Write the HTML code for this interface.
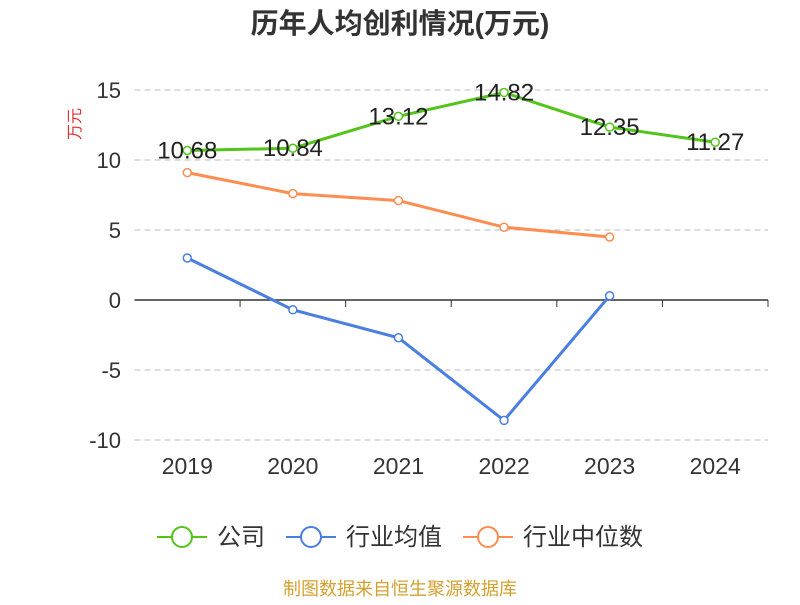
<!DOCTYPE html>
<html><head><meta charset="utf-8"><style>
body{margin:0;background:#fff;width:800px;height:600px;overflow:hidden;font-family:"Liberation Sans","Noto Sans CJK SC",sans-serif}
</style></head><body>
<svg id="c" width="800" height="600" xmlns="http://www.w3.org/2000/svg">
<text x="400" y="33" text-anchor="middle" font-size="28" font-weight="bold" fill="#333" font-family="Liberation Sans,Noto Sans CJK SC,sans-serif">历年人均创利情况(万元)</text>
<text x="0" y="0" transform="translate(80,124) rotate(-90)" text-anchor="middle" font-size="16" fill="#e03030" font-family="Liberation Sans,Noto Sans CJK SC,sans-serif">万元</text>
<g id="grid"></g><g id="series"></g>
<g font-size="24" fill="#333" font-family="Liberation Sans,Noto Sans CJK SC,sans-serif">
<g><line x1="157" y1="537" x2="207" y2="537" stroke="#52c41a" stroke-width="2"/><circle cx="182" cy="537" r="10" fill="#fff" stroke="#52c41a" stroke-width="2"/><text x="217" y="545">公司</text></g>
<g><line x1="286" y1="537" x2="336" y2="537" stroke="#4a7ee0" stroke-width="2"/><circle cx="311" cy="537" r="10" fill="#fff" stroke="#4a7ee0" stroke-width="2"/><text x="346" y="545">行业均值</text></g>
<g><line x1="463" y1="537" x2="513" y2="537" stroke="#ff8c50" stroke-width="2"/><circle cx="488" cy="537" r="10" fill="#fff" stroke="#ff8c50" stroke-width="2"/><text x="523" y="545">行业中位数</text></g>
</g>
<text x="400" y="595" text-anchor="middle" font-size="18" fill="#d4a030" font-family="Liberation Sans,Noto Sans CJK SC,sans-serif">制图数据来自恒生聚源数据库</text>
</svg>
<script>
const categories=["2019","2020","2021","2022","2023","2024"];
const company=[10.68,10.84,13.12,14.82,12.35,11.27];
const industryAvg=[3.0,-0.7,-2.7,-8.6,0.3,null];
const industryMedian=[9.1,7.6,7.1,5.2,4.5,null];
const yTicks=[15,10,5,0,-5,-10];
const NS="http://www.w3.org/2000/svg";
const x0=134.5,x1=768,bw=(x1-x0)/categories.length;
const xs=i=>x0+bw*(i+0.5);
const ys=v=>300-v*14;
function mk(tag,attrs,parent){const e=document.createElementNS(NS,tag);for(const k in attrs)e.setAttribute(k,attrs[k]);parent.appendChild(e);return e;}
const grid=document.getElementById('grid');
yTicks.forEach(t=>{
 if(t!==0){const l=mk('line',{x1:x0,x2:x1,y1:ys(t),y2:ys(t),stroke:'#bbb','stroke-dasharray':'6,4'},grid);
 
 }
 const tx=mk('text',{x:121,y:ys(t)+8,'text-anchor':'end','font-size':22,fill:'#333'},grid);
 tx.textContent=t;
 
 
});
const ax=mk('line',{x1:x0,x2:x1,y1:300,y2:300,stroke:'#333','stroke-width':1.5},grid);


for(let i=1;i<=categories.length;i++){const tk=mk('line',{x1:x0+bw*i,x2:x0+bw*i,y1:300,y2:307,stroke:'#333'},grid);

}
categories.forEach((c,i)=>{const t=mk('text',{x:xs(i),y:474,'text-anchor':'middle','font-size':23,fill:'#333'},grid);t.textContent=c;

});
const sg=document.getElementById('series');
function draw(vals,color,name,labels){
 const pts=vals.map((v,i)=>v==null?null:[xs(i),ys(v)]).filter(p=>p);
 const pl=mk('polyline',{points:pts.map(p=>p.join(',')).join(' '),fill:'none',stroke:color,'stroke-width':3},sg);
 
 
 vals.forEach((v,i)=>{if(v==null)return;
  const c=mk('circle',{cx:xs(i),cy:ys(v),r:4,fill:'#fff',stroke:color,'stroke-width':1.5},sg);
  
  
  if(labels){const t=mk('text',{x:xs(i),y:ys(v)+8,'text-anchor':'middle','font-size':24,fill:'#222'},sg);t.textContent=v.toFixed(2);
  
  }
 });
}
draw(industryMedian,'#ff8c50','industry-median',false);
draw(industryAvg,'#4a7ee0','industry-average',false);
draw(company,'#52c41a','company',true);
</script>
</body></html>
